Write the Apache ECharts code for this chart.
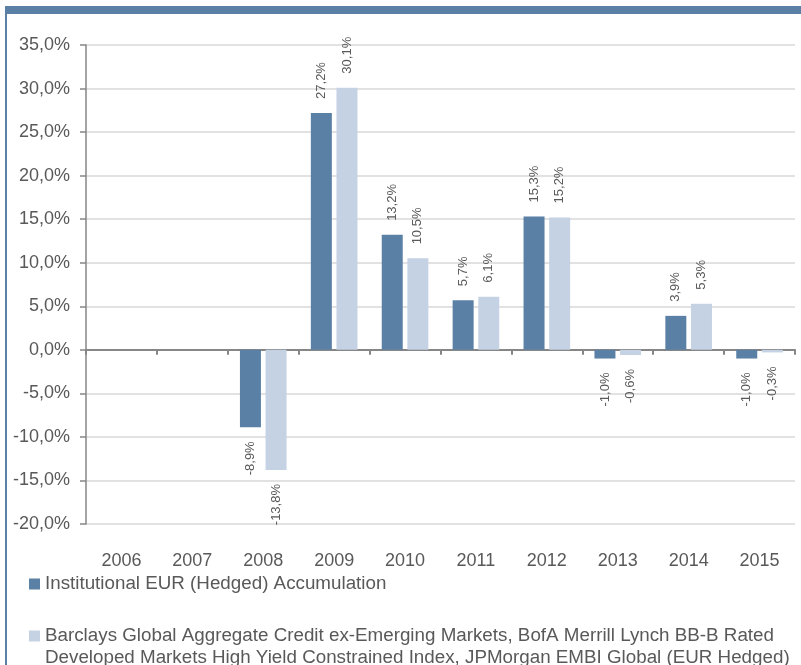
<!DOCTYPE html>
<html>
<head>
<meta charset="utf-8">
<script src="https://cdn.jsdelivr.net/npm/echarts@6/dist/echarts.min.js"></script>
<style>
  html, body { margin: 0; padding: 0; background: #fff; }
  #chart { width: 801px; height: 665px; }
</style>
</head>
<body>
<div id="chart"></div>
<script>
// jaren en rendementen (in %)
const years = ['2006', '2007', '2008', '2009', '2010', '2011', '2012', '2013', '2014', '2015'];
const fundName = 'Institutional EUR (Hedged) Accumulation';
const benchName = 'Barclays Global Aggregate Credit ex-Emerging Markets, BofA Merrill Lynch BB-B Rated Developed Markets High Yield Constrained Index, JPMorgan EMBI Global (EUR Hedged)';
const fundValues = [null, null, -8.9, 27.2, 13.2, 5.7, 15.3, -1.0, 3.9, -1.0];
const benchValues = [null, null, -13.8, 30.1, 10.5, 6.1, 15.2, -0.6, 5.3, -0.3];

const textGrey = '#595959';
const fmt = v => v.toFixed(1).replace('.', ',') + '%';

// label boven of onder de staaf, afhankelijk van het teken
function withLabels(values) {
    return values.map(v => {
        if (v === null) return null;
        const neg = v < 0;
        return {
            value: v,
            label: {
                position: neg ? 'bottom' : 'top',
                align: neg ? 'right' : 'left'
            }
        };
    });
}

const chart = echarts.init(document.getElementById('chart'));

const barLabel = {
    show: true,
    rotate: 90,
    distance: 14,
    verticalAlign: 'middle',
    fontFamily: 'Liberation Sans',
    fontSize: 13,
    color: textGrey,
    formatter: p => fmt(p.value)
};

chart.setOption({
    animation: false,
    backgroundColor: '#fff',
    textStyle: { fontFamily: 'Liberation Sans' },
    grid: { left: 86, right: 6, top: 45, bottom: 141, containLabel: false },
    graphic: [
        // kader: balk bovenaan en lijn links
        { type: 'rect', shape: { x: 5, y: 6, width: 796, height: 8 }, style: { fill: '#5b80a5' }, silent: true },
        { type: 'rect', shape: { x: 5, y: 6, width: 2, height: 659 }, style: { fill: '#5b80a5' }, silent: true }
    ],
    legend: [
        {
            data: [fundName],
            orient: 'vertical',
            left: 29, top: 573,
            padding: 0,
            itemWidth: 11, itemHeight: 11, itemGap: 0,
            icon: 'rect',
            textStyle: { fontSize: 18.8, color: textGrey, lineHeight: 22 }
        },
        {
            data: [benchName],
            orient: 'vertical',
            left: 29, top: 603,
            padding: 0,
            itemWidth: 11, itemHeight: 11, itemGap: 0,
            icon: 'rect',
            // lege eerste regel zodat het blokje bij de eerste tekstregel staat
            formatter: n => '\n' + n.replace('Rated ', 'Rated\n'),
            textStyle: { fontSize: 18.8, color: textGrey, lineHeight: 22 }
        }
    ],
    xAxis: [
        {
            type: 'category',
            data: years,
            position: 'bottom',
            axisLine: { show: false, onZero: false },
            axisTick: { show: false },
            axisLabel: { fontSize: 18, color: textGrey, margin: 28 }
        },
        {
            // nullijn met streepjes
            type: 'category',
            data: years,
            position: 'bottom',
            axisLine: { show: true, onZero: true, lineStyle: { color: '#868686', width: 2 } },
            axisTick: { show: true, length: 5, lineStyle: { color: '#868686', width: 2 } },
            axisLabel: { show: false }
        }
    ],
    yAxis: {
        type: 'value',
        min: -20,
        max: 35,
        interval: 5,
        axisLine: { show: true, lineStyle: { color: '#868686', width: 1.5 } },
        axisTick: { show: true, length: 6, lineStyle: { color: '#868686', width: 1.5 } },
        axisLabel: { fontSize: 18, color: textGrey, margin: 16, formatter: v => fmt(v) },
        splitLine: { show: true, lineStyle: { color: '#d9d9d9', width: 1.5 } }
    },
    series: [
        {
            name: fundName,
            type: 'bar',
            xAxisIndex: 0,
            barWidth: 21,
            barGap: '22%',
            itemStyle: { color: '#5b80a5' },
            label: barLabel,
            data: withLabels(fundValues)
        },
        {
            name: benchName,
            type: 'bar',
            xAxisIndex: 0,
            barWidth: 21,
            barGap: '22%',
            itemStyle: { color: '#c5d2e3' },
            label: barLabel,
            data: withLabels(benchValues)
        }
    ]
});
</script>
</body>
</html>
